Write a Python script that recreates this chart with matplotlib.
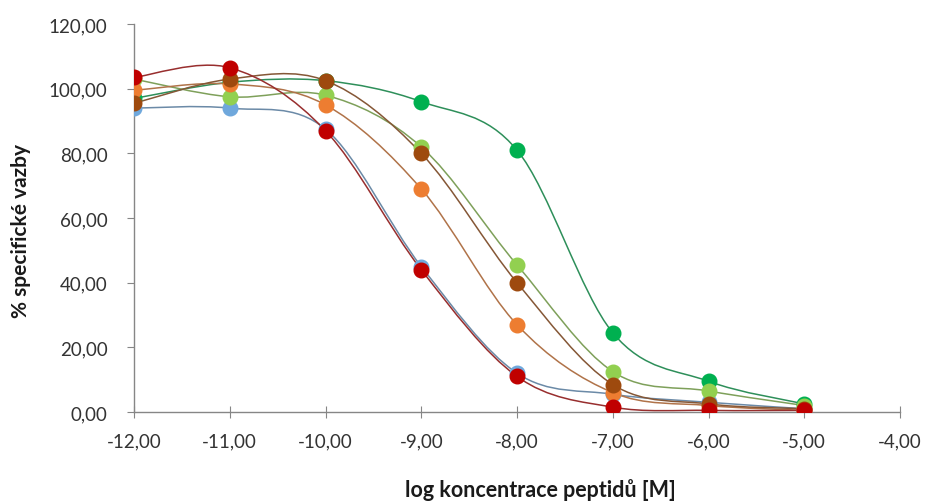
import matplotlib
matplotlib.use("Agg")
import matplotlib.pyplot as plt
from matplotlib.path import Path
from matplotlib.patches import PathPatch
from matplotlib.ticker import FuncFormatter, MultipleLocator
import matplotlib.colors as mcolors
import numpy as np

log_conc = [-12, -11, -10, -9, -8, -7, -6, -5]

blue = [94.0, 94.0, 87.5, 45.0, 12.0, 5.5, 3.0, 1.0]
dark_green = [97.0, 102.0, 102.5, 96.0, 81.0, 24.5, 9.5, 2.5]
light_green = [103.0, 97.5, 98.0, 82.0, 45.5, 12.5, 6.5, 2.0]
orange = [99.5, 101.5, 95.0, 69.0, 27.0, 6.0, 2.0, 0.5]
brown = [95.5, 103.0, 102.5, 80.0, 40.0, 8.5, 2.5, 1.0]
red = [103.5, 106.5, 87.0, 44.0, 11.0, 1.5, 0.5, 0.5]

series = [
    (blue, "#6FA8DC"),
    (dark_green, "#00B050"),
    (light_green, "#92D050"),
    (orange, "#ED7D31"),
    (brown, "#9E4A0E"),
    (red, "#C00000"),
]

plt.rcParams['font.family'] = ['Lato', 'DejaVu Sans']

fig = plt.figure(figsize=(9.25, 5.02), dpi=100)
ax = fig.add_axes([0.1449, 0.1773, 0.8281, 0.7727])


def smooth_path(xs, ys):
    pts = np.column_stack([xs, ys]).astype(float)
    verts = [tuple(pts[0])]
    codes = [Path.MOVETO]
    n = len(pts)
    for i in range(n - 1):
        p0 = pts[i - 1] if i > 0 else pts[i]
        p1 = pts[i]
        p2 = pts[i + 1]
        p3 = pts[i + 2] if i + 2 < n else pts[i + 1]
        c1 = p1 + (p2 - p0) / 6.0
        c2 = p2 - (p3 - p1) / 6.0
        verts += [tuple(c1), tuple(c2), tuple(p2)]
        codes += [Path.CURVE4] * 3
    return Path(verts, codes)


for ys, col in series:
    rgb = np.array(mcolors.to_rgb(col))
    line_col = tuple(rgb * 0.55 + np.array([0.4, 0.4, 0.4]) * 0.45)
    patch = PathPatch(smooth_path(log_conc, ys), facecolor='none',
                      edgecolor=line_col, lw=1.1, zorder=2)
    ax.add_patch(patch)
    ax.plot(log_conc, ys, linestyle='none', marker='o', markersize=10.5,
            markerfacecolor=col, markeredgecolor=col, zorder=3)

ax.set_xlim(-12, -4)
ax.set_ylim(0, 120)
ax.xaxis.set_major_locator(MultipleLocator(1))
ax.yaxis.set_major_locator(MultipleLocator(20))
fmt = FuncFormatter(lambda v, p: f"{v:.2f}".replace(".", ","))
ax.xaxis.set_major_formatter(fmt)
ax.yaxis.set_major_formatter(fmt)

for s in ['top', 'right']:
    ax.spines[s].set_visible(False)
for s in ['left', 'bottom']:
    ax.spines[s].set_color('#868686')
    ax.spines[s].set_linewidth(1.0)

ax.tick_params(axis='y', direction='out', length=5, color='#868686',
               labelsize=13.5, labelcolor='#333333', pad=14)
ax.tick_params(axis='x', direction='inout', length=8, color='#868686',
               labelsize=13.5, labelcolor='#333333', pad=11)

ax.set_xlabel("log koncentrace peptidů [M]", fontsize=15.5, fontweight='bold',
              color='#1a1a1a')
ax.set_ylabel("% specifické vazby", fontsize=15, fontweight='bold',
              color='#1a1a1a')
ax.xaxis.set_label_coords(0.531, -0.198)
ax.xaxis.label.set_va('center')
ax.yaxis.set_label_coords(-0.148, 0.47)
ax.yaxis.label.set_va('center')

fig.savefig("out.png", dpi=100, facecolor='white')
